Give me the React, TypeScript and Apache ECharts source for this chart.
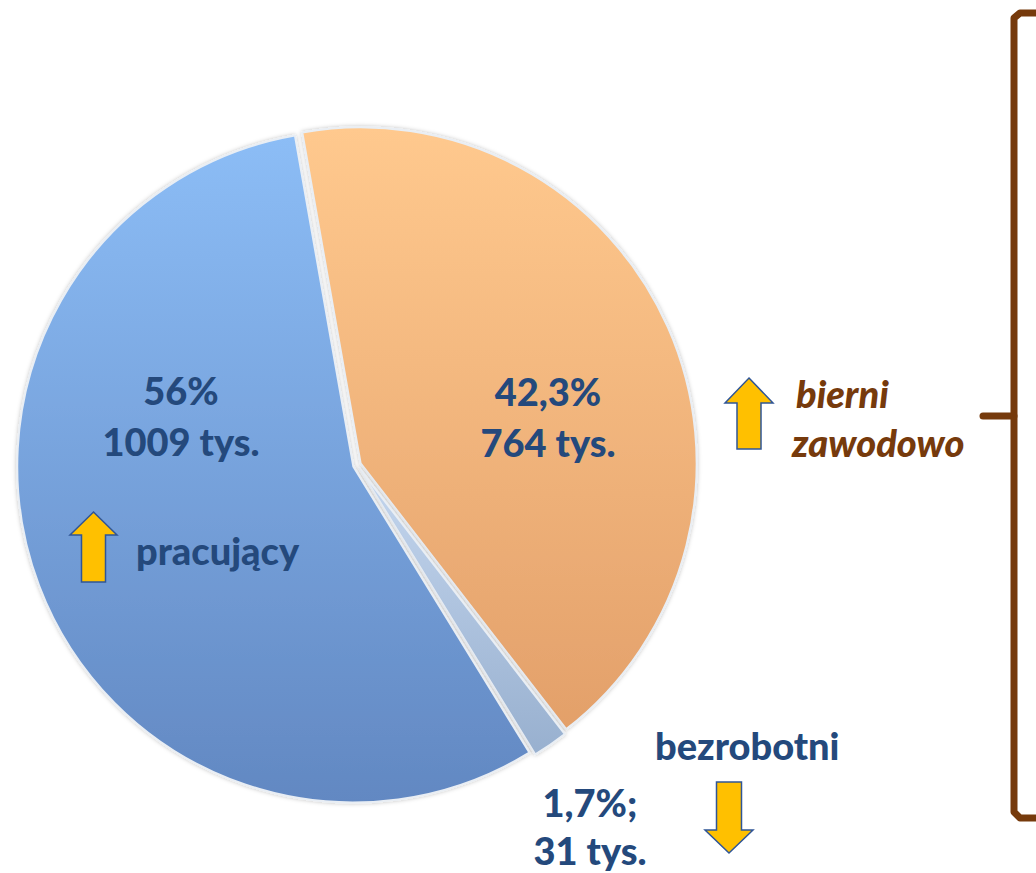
import React, { useEffect, useRef } from "react";
import * as echarts from "echarts";

const categories = ["bierni zawodowo", "bezrobotni", "pracujący"];
const shares = [42.3, 1.7, 56];
const thousands = [764, 31, 1009];
const shareLabels = ["42,3%", "1,7%;", "56%"];

const gradient = (top: string, bottom: string) =>
  new echarts.graphic.LinearGradient(0, 0, 0, 1, [
    { offset: 0, color: top },
    { offset: 1, color: bottom },
  ]);

const sliceColors = [
  gradient("#ffc98e", "#e3a06a"),
  gradient("#c4d6ee", "#98b0cf"),
  gradient("#8cbdf6", "#6288c2"),
];

const TXT = "#24497c";
const BROWN = "#763a0c";
const FONT = "Lato, 'Open Sans', sans-serif";

const upArrow = (x: number, y: number, w: number, h: number, head: number, shaft: number) => ({
  type: "polygon",
  shape: {
    points: [
      [x + w / 2, y],
      [x + w, y + head],
      [x + w / 2 + shaft / 2, y + head],
      [x + w / 2 + shaft / 2, y + h],
      [x + w / 2 - shaft / 2, y + h],
      [x + w / 2 - shaft / 2, y + head],
      [x, y + head],
    ],
  },
  style: { fill: "#ffc000", stroke: "#2f5597", lineWidth: 1.5 },
  z: 10,
});

const downArrow = (x: number, y: number, w: number, h: number, head: number, shaft: number) => ({
  type: "polygon",
  shape: {
    points: [
      [x + w / 2, y + h],
      [x + w, y + h - head],
      [x + w / 2 + shaft / 2, y + h - head],
      [x + w / 2 + shaft / 2, y],
      [x + w / 2 - shaft / 2, y],
      [x + w / 2 - shaft / 2, y + h - head],
      [x, y + h - head],
    ],
  },
  style: { fill: "#ffc000", stroke: "#2f5597", lineWidth: 1.5 },
  z: 10,
});

const txt = (
  text: string,
  x: number,
  y: number,
  align: string,
  color: string,
  italic = false,
  shadow = false
) => ({
  type: "text",
  x,
  y,
  z: 10,
  style: {
    text,
    fill: color,
    font: `${italic ? "italic " : ""}900 38px ${FONT}`,
    align,
    verticalAlign: "middle",
    ...(shadow
      ? { shadowColor: "rgba(0,0,0,0.35)", shadowBlur: 3, shadowOffsetX: 2, shadowOffsetY: 2 }
      : {}),
  },
});

export default function App() {
  const ref = useRef<HTMLDivElement>(null);
  useEffect(() => {
    if (!ref.current) return;
    const chart = echarts.init(ref.current, undefined, { renderer: "svg" });
    chart.setOption({
      animation: false,
      backgroundColor: "#ffffff",
      series: [
        {
          type: "pie",
          center: [357, 465],
          radius: [0, 336],
          startAngle: 100,
          clockwise: true,
          selectedMode: "multiple",
          selectedOffset: 4,
          label: { show: false },
          labelLine: { show: false },
          emphasis: { disabled: true },
          itemStyle: {
            borderColor: "#e9eef4",
            borderWidth: 2,
            shadowColor: "rgba(0,0,0,0.25)",
            shadowBlur: 4,
          },
          data: categories.map((name, i) => ({
            name,
            value: shares[i],
            selected: true,
            itemStyle: { color: sliceColors[i] },
          })),
        },
      ],
      graphic: [
        txt(shareLabels[2], 181, 390, "center", TXT),
        txt(`${thousands[2]} tys.`, 181, 441, "center", TXT),
        txt(shareLabels[0], 548, 391, "center", TXT),
        txt(`${thousands[0]} tys.`, 548, 442, "center", TXT),
        txt(categories[2], 136, 550, "left", TXT),
        txt("bierni", 796, 393, "left", BROWN, true, true),
        txt("zawodowo", 792, 442, "left", BROWN, true, true),
        txt(categories[1], 655, 745, "left", TXT),
        txt(shareLabels[1], 590, 802, "center", TXT),
        txt(`${thousands[1]} tys.`, 590, 850, "center", TXT),
        upArrow(70, 512, 47, 70, 23, 24),
        upArrow(725, 378, 48, 71, 25, 24),
        downArrow(705, 782, 48, 71, 23, 25),
        {
          type: "polyline",
          shape: {
            points: [
              [1036, 13],
              [1020, 13],
              [1014, 18],
              [1014, 812],
              [1020, 818],
              [1036, 818],
            ],
          },
          style: { stroke: BROWN, lineWidth: 7, fill: "none", lineJoin: "round" },
          z: 10,
        },
        {
          type: "line",
          shape: { x1: 983, y1: 416, x2: 1014, y2: 416 },
          style: { stroke: BROWN, lineWidth: 7, lineCap: "round" },
          z: 10,
        },
      ],
    });
    return () => chart.dispose();
  }, []);
  return (
    <div
      ref={ref}
      style={{ position: "fixed", left: 0, top: 0, width: 1036, height: 873 }}
    />
  );
}
